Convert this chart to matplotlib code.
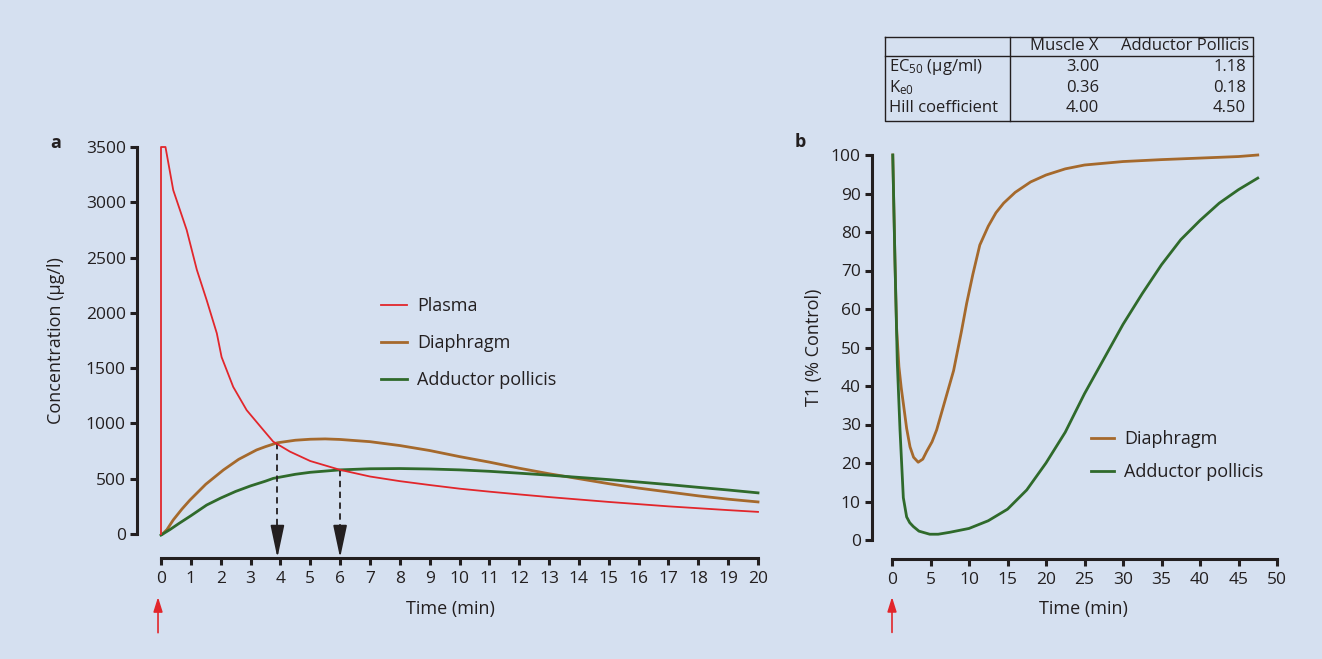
import numpy as np
import matplotlib
matplotlib.use("Agg")
from matplotlib import pyplot as plt

# ---------------- data ----------------
# panel a: concentration (ug/l) vs time (min)
plasma_t = [0, 0, 0.15, 0.41, 0.86, 1.2, 1.53, 1.87, 2.03, 2.42, 2.87, 3.43, 3.76, 4.32, 5, 6, 7, 8, 9,
            10, 11, 12, 13, 14, 15, 16, 17, 18, 19, 20]
plasma_c = [0, 3500, 3500, 3110, 2750, 2390, 2115, 1815, 1600, 1330, 1120, 940, 835, 745, 660, 580,
            520, 478, 443, 410, 383, 358, 334, 312, 290, 270, 250, 233, 216, 200]

diaph_t = [0.05, 0.2, 0.41, 0.7, 0.97, 1.5, 2.09, 2.6, 3.2, 3.5, 3.9, 4.5, 5, 5.5, 6, 7, 8, 9,
           10, 11, 12, 13, 14, 15, 16, 17, 18, 19, 20]
diaph_c = [0, 40, 127, 225, 307, 450, 579, 675, 760, 790, 825, 848, 857, 860, 855, 835, 800, 755,
           700, 650, 595, 545, 500, 455, 415, 380, 345, 315, 290]

add_t = [0, 0.3, 0.6, 1, 1.53, 2, 2.5, 3, 3.5, 3.76, 4.5, 5, 6, 7, 8, 9, 10, 11, 12, 13, 14, 15, 16,
         17, 18, 19, 20]
add_c = [-10, 40, 95, 165, 262, 325, 385, 435, 478, 503, 540, 558, 580, 590, 592, 588, 580, 567, 550,
         532, 512, 492, 470, 447, 422, 398, 372]

peak_times = [3.9, 6.0]
peak_conc = [825, 580]

# panel b: T1 (% control) vs time (min)
t1_diaph_t = [0.1, 0.39, 0.6, 0.9, 1.2, 1.47, 1.9, 2.34, 2.8, 3.4, 4.0, 4.5, 5.2, 5.8, 7, 8, 9, 9.7,
              10.5, 11.4, 12.5, 13.5, 14.5, 16, 18, 20, 22.5, 25, 30, 35, 40, 45, 47.5]
t1_diaph = [100, 72, 55, 45, 39.5, 35.5, 29, 24.2, 21.5, 20.2, 21, 23, 25.5, 28.6, 37, 44, 54, 61.5,
            69, 76.6, 81.5, 85, 87.5, 90.3, 93, 94.8, 96.4, 97.4, 98.3, 98.8, 99.2, 99.6, 100]

t1_add_t = [0.1, 0.39, 0.69, 1.04, 1.47, 1.9, 2.3, 2.77, 3.5, 4.9, 6, 7.5, 10, 12.5, 15, 17.5, 20,
            22.5, 25, 27.5, 30, 32.5, 35, 37.5, 40, 42.5, 45, 47.5]
t1_add = [100, 72, 46, 28.6, 11, 6, 4.5, 3.5, 2.3, 1.5, 1.5, 2.0, 3.0, 5, 8, 13, 20, 28, 38, 47, 56,
          64, 71.5, 78, 83, 87.5, 91, 94]

# parameter table
table_header = ["Muscle X", "Adductor Pollicis"]
table_rows = ["EC$\\mathregular{_{50}}$ (µg/ml)", "K$\\mathregular{_{e0}}$", "Hill coefficient"]
muscle_x = ["3.00", "0.36", "4.00"]
adductor = ["1.18", "0.18", "4.50"]

# ---------------- style ----------------
bg = "#d5e0f0"
ink = "#231f20"
red = "#e2262b"
brown = "#a5692c"
green = "#2f6a2b"

plt.rcParams["font.family"] = ["Open Sans", "DejaVu Sans"]
plt.rcParams["mathtext.fontset"] = "custom"
plt.rcParams["mathtext.rm"] = "Open Sans"
plt.rcParams["font.size"] = 12.5
plt.rcParams["text.color"] = ink
plt.rcParams["axes.labelcolor"] = ink

W, H = 1322, 659
fig = plt.figure(figsize=(W / 100, H / 100), dpi=100, facecolor=bg)


def style_axes(ax, off_left, off_bottom):
    ax.set_facecolor("none")
    for s in ["top", "right"]:
        ax.spines[s].set_visible(False)
    ax.spines["left"].set_position(("outward", off_left))
    ax.spines["bottom"].set_position(("outward", off_bottom))
    for s in ["left", "bottom"]:
        ax.spines[s].set_linewidth(2.2)
        ax.spines[s].set_color(ink)
    ax.tick_params(direction="out", length=5, width=2.2, color=ink, labelcolor=ink, labelsize=12.5)
    ax.tick_params(axis="y", pad=3)
    ax.tick_params(axis="x", pad=4)


# ---------------- panel a ----------------
ax1 = fig.add_axes([161 / W, 1 - 534 / H, (758 - 161) / W, (534 - 147) / H])
style_axes(ax1, 17.3, 17.3)
ax1.plot(plasma_t, plasma_c, color=red, lw=1.3, label="Plasma", clip_on=False, zorder=3)
ax1.plot(diaph_t, diaph_c, color=brown, lw=2.0, label="Diaphragm", clip_on=False, zorder=2)
ax1.plot(add_t, add_c, color=green, lw=2.0, label="Adductor pollicis", clip_on=False, zorder=2)
ax1.set_xlim(0, 20)
ax1.set_ylim(0, 3500)
ax1.set_xticks(np.arange(0, 21, 1))
ax1.set_yticks(np.arange(0, 3501, 500))
ax1.set_xlabel("Time (min)", fontsize=13)
ax1.set_ylabel("Concentration (µg/l)", fontsize=13)
ax1.xaxis.set_label_coords(0.484, -0.170)
ax1.yaxis.set_label_coords(-0.16, 0.5)

# dashed drop lines to the time axis
for tp, cp in zip(peak_times, peak_conc):
    ax1.plot([tp, tp], [cp, -40], ls=(0, (3.5, 2.5)), color=ink, lw=1.3, clip_on=False)
    ax1.annotate("", xy=(tp, -215), xytext=(tp, -40), xycoords="data",
                 arrowprops=dict(arrowstyle="-|>,head_length=1.6,head_width=0.34",
                                 color=ink, lw=1.3, shrinkA=0, shrinkB=0), annotation_clip=False)

# red injection arrow
ax1.annotate("", xy=(-0.1, -0.163), xytext=(-0.1, -0.255), xycoords=("data", "axes fraction"),
             arrowprops=dict(arrowstyle="-|>,head_length=0.7,head_width=0.22", color=red, lw=1.2,
                             shrinkA=0, shrinkB=0), annotation_clip=False)

ax1.legend(loc="upper left", bbox_to_anchor=(381 / W, 1 - 297 / H), bbox_transform=fig.transFigure,
           frameon=False, fontsize=13, borderpad=0, borderaxespad=0, handlelength=1.45,
           handletextpad=0.55, labelspacing=1.05)

# ---------------- panel b ----------------
ax2 = fig.add_axes([892 / W, 1 - 540 / H, (1277 - 892) / W, (540 - 155) / H])
style_axes(ax2, 14.4, 13.7)
ax2.plot(t1_diaph_t, t1_diaph, color=brown, lw=2.0, label="Diaphragm", clip_on=False)
ax2.plot(t1_add_t, t1_add, color=green, lw=2.0, label="Adductor pollicis", clip_on=False)
ax2.set_xlim(0, 50)
ax2.set_ylim(0, 100)
ax2.set_xticks(np.arange(0, 51, 5))
ax2.set_yticks(np.arange(0, 101, 10))
ax2.set_xlabel("Time (min)", fontsize=13)
ax2.set_ylabel("T1 (% Control)", fontsize=13)
ax2.xaxis.set_label_coords(0.496, -0.156)
ax2.yaxis.set_label_coords(-0.179, 0.5)

ax2.annotate("", xy=(0, -0.148), xytext=(0, -0.24), xycoords=("data", "axes fraction"),
             arrowprops=dict(arrowstyle="-|>,head_length=0.7,head_width=0.22", color=red, lw=1.2,
                             shrinkA=0, shrinkB=0), annotation_clip=False)

ax2.legend(loc="upper left", bbox_to_anchor=(1091 / W, 1 - 430 / H), bbox_transform=fig.transFigure,
           frameon=False, fontsize=13, borderpad=0, borderaxespad=0, handlelength=1.3,
           handletextpad=0.55, labelspacing=0.85)

# panel letters
fig.text(50 / W, 1 - 143 / H, "a", fontsize=13, fontweight="bold", va="center")
fig.text(795 / W, 1 - 142 / H, "b", fontsize=13, fontweight="bold", va="center")

# ---------------- parameter table ----------------
tab = fig.add_axes([0, 0, 1, 1])
tab.set_xlim(0, W)
tab.set_ylim(H, 0)
tab.axis("off")
left, right, top, bottom = 885, 1253, 37, 121
col1 = 1010
head_line = 56
tab.plot([left, right, right, left, left], [top, top, bottom, bottom, top], color=ink, lw=1.0)
tab.plot([col1, col1], [top, bottom], color=ink, lw=1.0)
tab.plot([left, right], [head_line, head_line], color=ink, lw=1.0)
tab.text(1099, 46, table_header[0], ha="right", va="center", fontsize=12)
tab.text(1249, 46, table_header[1], ha="right", va="center", fontsize=12)
row_y = [67, 88, 108]
for y, name, mx, ap in zip(row_y, table_rows, muscle_x, adductor):
    tab.text(889, y, name, ha="left", va="center", fontsize=12)
    tab.text(1099, y, mx, ha="right", va="center", fontsize=12)
    tab.text(1246, y, ap, ha="right", va="center", fontsize=12)

fig.savefig("out.png", dpi=100, facecolor=bg)
